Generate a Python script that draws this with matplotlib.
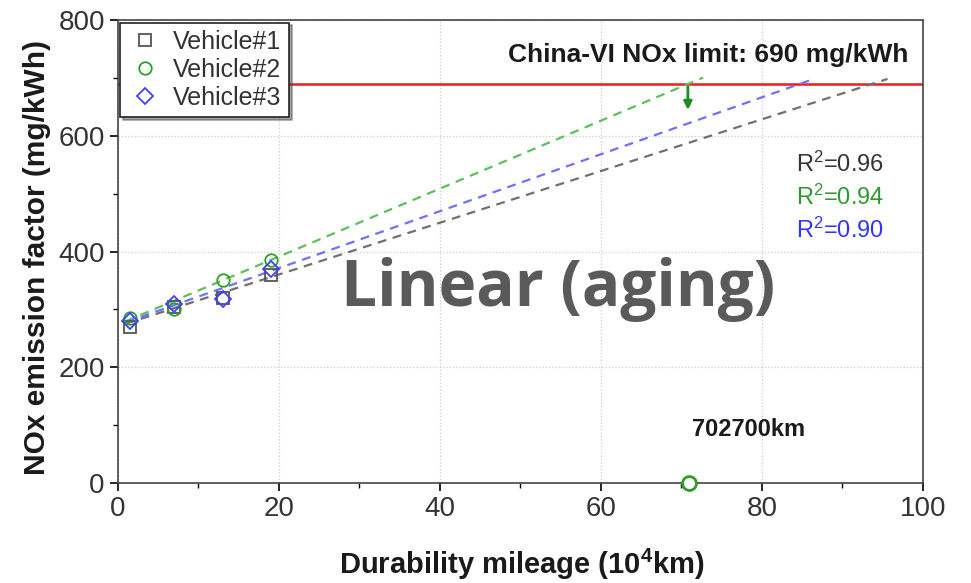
import numpy as np
import matplotlib
matplotlib.use("Agg")
import matplotlib.pyplot as plt
from matplotlib.ticker import MultipleLocator

plt.rcParams["font.family"] = ["Liberation Sans", "DejaVu Sans"]
plt.rcParams["mathtext.fontset"] = "custom"
plt.rcParams["mathtext.rm"] = "Liberation Sans"
plt.rcParams["mathtext.it"] = "Liberation Sans:italic"
plt.rcParams["mathtext.bf"] = "Liberation Sans:bold"

# ---------------------------------------------------------------------------
# Data
# ---------------------------------------------------------------------------
MILEAGE = [1.5, 7.0, 13.0, 19.0]            # 10^4 km
V1_NOX = [270, 305, 320, 360]
V2_NOX = [285, 300, 350, 385]
V3_NOX = [280, 310, 318, 370]

# linear (aging) fits: slope, intercept, end of extrapolation
FIT_SLOPE = [4.47, 5.87, 4.92]
FIT_INTERCEPT = [271, 274, 273]
FIT_END = [95.6, 72.7, 86.3]
FIT_START = 1.0
R2 = ["0.96", "0.94", "0.90"]

LIMIT = 690
CROSS_KM = 71.0        # 702700 km point as drawn
ARROW_X = 70.8
ARROW_TO = 640

NAMES = ["Vehicle#1", "Vehicle#2", "Vehicle#3"]
MARKERS = ["s", "o", "D"]
MCOLORS = ["#555555", "#2ca02c", "#4040ff"]
LCOLORS = ["#707070", "#5cbf5c", "#7070ff"]
TCOLORS = ["#333333", "#2e9a2e", "#3333ff"]

# ---------------------------------------------------------------------------
# Plot
# ---------------------------------------------------------------------------
fig = plt.figure(figsize=(9.71, 5.83), dpi=100)
ax = fig.add_axes([0.1215, 0.1715, 0.829, 0.794])

ax.set_xlim(0, 100)
ax.set_ylim(0, 800)
ax.xaxis.set_major_locator(MultipleLocator(20))
ax.xaxis.set_minor_locator(MultipleLocator(10))
ax.yaxis.set_major_locator(MultipleLocator(200))
ax.yaxis.set_minor_locator(MultipleLocator(100))
ax.grid(True, which="major", color="#cccccc", linestyle=":", lw=0.9)
ax.tick_params(which="major", direction="out", length=6, width=1.2,
               labelsize=20, labelcolor="#333333")
ax.tick_params(which="minor", direction="out", length=3.5, width=1.0)
for sp in ax.spines.values():
    sp.set_linewidth(1.2)
    sp.set_color("#444444")

ax.axhline(LIMIT, color="#ee1c1c", lw=1.8, zorder=2)

all_y = [V1_NOX, V2_NOX, V3_NOX]
for i in range(3):
    xs = np.array([FIT_START, FIT_END[i]])
    ax.plot(xs, FIT_INTERCEPT[i] + FIT_SLOPE[i] * xs, ls=(0, (4, 3)),
            color=LCOLORS[i], lw=1.6, zorder=3)
    ax.plot(MILEAGE, all_y[i], ls="none", marker=MARKERS[i],
            markersize=9 if i < 2 else 8, markerfacecolor="none",
            markeredgecolor=MCOLORS[i], markeredgewidth=1.3,
            label=NAMES[i], zorder=4)

ax.plot([CROSS_KM], [0], ls="none", marker="o", markersize=10,
        markerfacecolor="white", markeredgecolor="#2ca02c",
        markeredgewidth=2, clip_on=False, zorder=5)
ax.annotate("", xy=(ARROW_X, ARROW_TO), xytext=(ARROW_X, LIMIT),
            arrowprops=dict(arrowstyle="-|>", color="#1e8c1e", lw=2,
                            mutation_scale=12), zorder=5)

ax.text(98.2, 740, "China-VI NOx limit: 690 mg/kWh", ha="right", va="center",
        fontsize=19, fontweight="bold", color="#1a1a1a")
for i, (r, c) in enumerate(zip(R2, TCOLORS)):
    ax.text(84.2, 550 - 57 * i, "R$^{2}$=" + r, ha="left", va="center",
            fontsize=17, color=c)
ax.text(71.3, 93, "702700km", ha="left", va="center", fontsize=17,
        fontweight="bold", color="#1a1a1a")
ax.text(54.7, 335, "Linear (aging)", ha="center", va="center",
        fontsize=46, fontweight="bold", color="#5a5a5a",
        family=["Open Sans", "DejaVu Sans"])

ax.set_xlabel(r"Durability mileage (10$^{\mathbf{4}}$km)", fontsize=21,
              fontweight="bold", color="#1a1a1a")
ax.set_ylabel("NOx emission factor (mg/kWh)", fontsize=21.5,
              fontweight="bold", color="#1a1a1a")
ax.xaxis.set_label_coords(0.502, -0.137)
ax.yaxis.set_label_coords(-0.083, 0.488)

leg = ax.legend(loc="upper left", fontsize=18, frameon=True, fancybox=False,
                shadow=True, edgecolor="#222222", borderpad=0.3,
                handletextpad=0.4, labelspacing=0.15, borderaxespad=0.1,
                handlelength=1.4)
leg.get_frame().set_linewidth(1.2)
for t in leg.get_texts():
    t.set_color("#333333")

fig.savefig("out.png", dpi=100)
